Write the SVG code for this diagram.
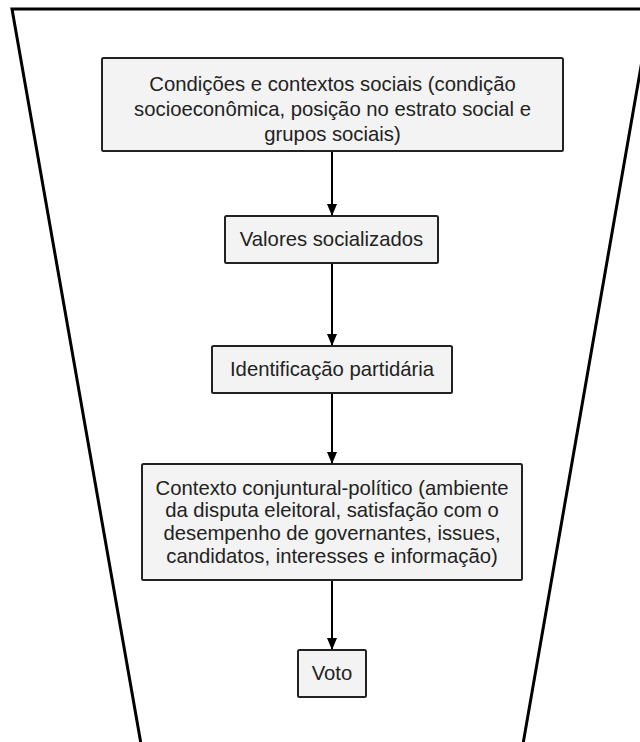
<svg xmlns="http://www.w3.org/2000/svg" width="640" height="742" viewBox="0 0 640 742">
<defs>
<style>
.box{fill:#f3f3f3;stroke:#222;stroke-width:2}
.t{font-family:"Liberation Sans",Arial,sans-serif;font-size:20.3px;fill:#222;text-anchor:middle}
.c{stroke:#000;stroke-width:2;fill:none}
.f{stroke:#000;stroke-width:3;fill:none;stroke-linejoin:miter}
</style>
<marker id="ah" viewBox="0 0 12 10" refX="12" refY="5" markerWidth="12" markerHeight="10" markerUnits="userSpaceOnUse" orient="auto">
<path d="M0,0 L12,5 L0,10 Z" fill="#000"/>
</marker>
</defs>
<rect width="640" height="742" fill="#fff"/>
<g id="funnel">
<polyline class="f" points="141,744 12,9 651,9 523,744"/>
</g>
<g id="connectors">
<line class="c" x1="332" y1="152" x2="332" y2="216" marker-end="url(#ah)"/>
<line class="c" x1="332" y1="264" x2="332" y2="346" marker-end="url(#ah)"/>
<line class="c" x1="332" y1="394" x2="332" y2="464" marker-end="url(#ah)"/>
<line class="c" x1="332" y1="581" x2="332" y2="650" marker-end="url(#ah)"/>
</g>
<g id="n1">
<rect class="box" x="102" y="58" width="461" height="93" rx="1.5"/>
<text class="t" x="332.5" y="91">Condições e contextos sociais (condição</text>
<text class="t" x="332.5" y="116">socioeconômica, posição no estrato social e</text>
<text class="t" x="332.5" y="141">grupos sociais)</text>
</g>
<g id="n2">
<rect class="box" x="225" y="216" width="213" height="47" rx="1.5"/>
<text class="t" x="331.5" y="245.5">Valores socializados</text>
</g>
<g id="n3">
<rect class="box" x="212" y="346" width="240" height="47" rx="1.5"/>
<text class="t" x="332" y="376">Identificação partidária</text>
</g>
<g id="n4">
<rect class="box" x="142" y="464" width="380" height="116" rx="1.5"/>
<text class="t" x="332" y="494.5">Contexto conjuntural-político (ambiente</text>
<text class="t" x="332" y="517">da disputa eleitoral, satisfação com o</text>
<text class="t" x="332" y="540">desempenho de governantes, issues,</text>
<text class="t" x="332" y="562.5">candidatos, interesses e informação)</text>
</g>
<g id="n5">
<rect class="box" x="298" y="650" width="68" height="47" rx="1.5"/>
<text class="t" x="332" y="679.5">Voto</text>
</g>
</svg>
